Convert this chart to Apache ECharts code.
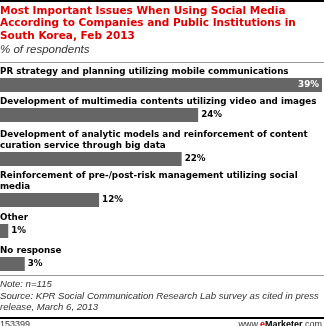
<!DOCTYPE html>
<html>
<head>
<meta charset="utf-8">
<script src="https://cdn.jsdelivr.net/npm/echarts@6/dist/echarts.min.js"></script>
<style>
  html, body { margin: 0; padding: 0; background: #fff; }
  #chart { width: 324px; height: 326px; }
</style>
</head>
<body>
<div id="chart"></div>
<script>
// Survey answers and their shares (% of respondents)
const categories = [
  "PR strategy and planning utilizing mobile communications",
  "Development of multimedia contents utilizing video and images",
  "Development of analytic models and reinforcement of content\ncuration service through big data",
  "Reinforcement of pre-/post-risk management utilizing social\nmedia",
  "Other",
  "No response"
];
const values = [39, 24, 22, 12, 1, 3];

const titleLines = "Most Important Issues When Using Social Media\nAccording to Companies and Public Institutions in\nSouth Korea, Feb 2013";
const subtitle = "% of respondents";
const noteText = "Note: n=115\nSource: KPR Social Communication Research Lab survey as cited in press\nrelease, March 6, 2013";
const chartId = "153399";

// Layout: top edge of each bar row (rows differ because some labels wrap)
const rowTops = [78, 108, 152, 193, 224, 257];
const barHeight = 14;
const xMax = 39;

const BAR = '#666666';
const LABEL_FONT = 'DejaVu Sans';
const LABEL_SIZE = 8.75;

const grids = [], xAxes = [], yAxes = [], series = [];
values.forEach((v, i) => {
  grids.push({ left: 0, right: 2, top: rowTops[i], height: barHeight });
  xAxes.push({ type: 'value', gridIndex: i, min: 0, max: xMax, show: false });
  yAxes.push({ type: 'category', gridIndex: i, data: [categories[i]], show: false });
  const inside = v === Math.max(...values);
  series.push({
    type: 'bar',
    xAxisIndex: i,
    yAxisIndex: i,
    data: [v],
    barWidth: barHeight,
    itemStyle: { color: BAR },
    silent: true,
    label: {
      show: true,
      position: inside ? 'insideRight' : 'right',
      distance: 3,
      formatter: '{c}%',
      color: inside ? '#fff' : '#000',
      fontFamily: LABEL_FONT,
      fontWeight: 'bold',
      fontSize: LABEL_SIZE
    }
  });
});

const graphic = [
  { type: 'rect', shape: { x: 0, y: 0, width: 324, height: 2 }, style: { fill: '#000' } },
  { type: 'text', left: 0, top: 5, style: {
      text: titleLines, fill: '#e00000', font: 'bold 10.5px "DejaVu Sans"', lineHeight: 12.5 } },
  { type: 'text', left: 0, top: 44, style: {
      text: subtitle, fill: '#333', font: 'italic 11.5px "Liberation Sans"' } },
  { type: 'rect', shape: { x: 0, y: 62, width: 324, height: 1 }, style: { fill: '#999' } },
  { type: 'rect', shape: { x: 0, y: 275, width: 324, height: 1 }, style: { fill: '#999' } },
  { type: 'text', left: 0, top: 279, style: {
      text: noteText, fill: '#333', font: 'italic 9.6px "Liberation Sans"', lineHeight: 11.5 } },
  { type: 'rect', shape: { x: 0, y: 317, width: 324, height: 2 }, style: { fill: '#000' } },
  { type: 'text', left: 0, top: 320, style: {
      text: chartId, fill: '#333', font: '9px "Liberation Sans"' } },
  { type: 'text', right: 2, top: 320, style: {
      text: '{w|www.}{e|e}{m|Marketer}{w|.com}',
      rich: {
        w: { fill: '#333', font: '9px "Liberation Sans"' },
        e: { fill: '#e00000', font: 'bold 9px "Liberation Sans"' },
        m: { fill: '#000', font: 'bold 9px "Liberation Sans"' }
      } } }
];

// Category labels sit just above their bars
categories.forEach((c, i) => {
  graphic.push({
    type: 'text', x: 0, y: rowTops[i] - 1,
    style: {
      text: c, fill: '#000', font: 'bold ' + LABEL_SIZE + 'px "DejaVu Sans"',
      lineHeight: 11, verticalAlign: 'bottom', align: 'left'
    }
  });
});

const chart = echarts.init(document.getElementById('chart'), null, { renderer: 'canvas' });
chart.setOption({
  animation: false,
  backgroundColor: '#fff',
  grid: grids,
  xAxis: xAxes,
  yAxis: yAxes,
  series: series,
  graphic: graphic
});
</script>
</body>
</html>
